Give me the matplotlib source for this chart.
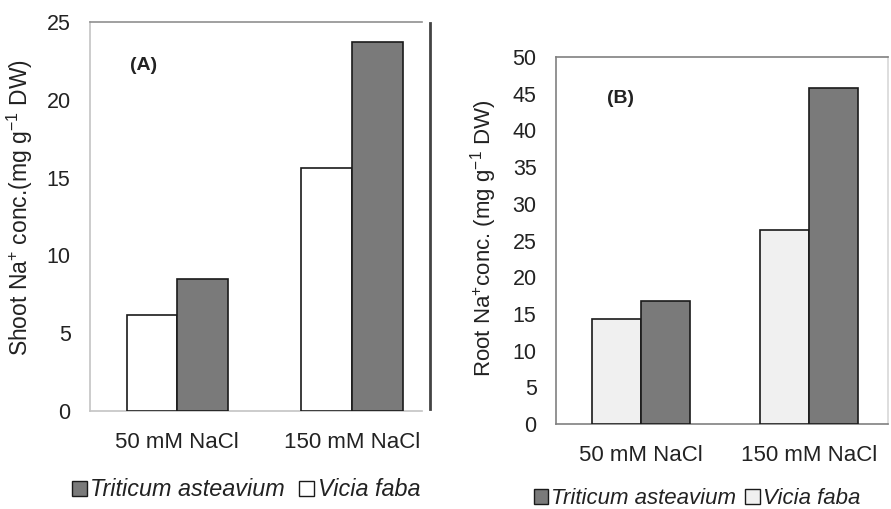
import matplotlib
matplotlib.use("Agg")
import matplotlib.pyplot as plt
from matplotlib.patches import Patch
from matplotlib.lines import Line2D
import numpy as np

plt.rcParams['font.family'] = ['Liberation Sans', 'DejaVu Sans']
plt.rcParams['mathtext.fontset'] = 'custom'
plt.rcParams['mathtext.rm'] = 'Liberation Sans'
plt.rcParams['mathtext.it'] = 'Liberation Sans:italic'

categories = ["50 mM NaCl", "150 mM NaCl"]
species = ["Triticum asteavium", "Vicia faba"]

shoot_triticum = [8.5, 23.7]
shoot_vicia = [6.2, 15.6]
root_triticum = [16.7, 45.8]
root_vicia = [14.3, 26.4]

shoot_ticks = [0, 5, 10, 15, 20, 25]
root_ticks = [0, 5, 10, 15, 20, 25, 30, 35, 40, 45, 50]

W, H = 891, 509
fig = plt.figure(figsize=(W / 100, H / 100), dpi=100)
fig.patch.set_facecolor("white")

dark = "#7a7a7a"
edge = "#1a1a1a"


def px_axes(x0, y0, x1, y1):
    return fig.add_axes([x0 / W, 1 - y1 / H, (x1 - x0) / W, (y1 - y0) / H])


def style_axes(ax, ticks, ylim, xlim, spine_col):
    ax.set_ylim(*ylim)
    ax.set_xlim(*xlim)
    ax.set_yticks(ticks)
    ax.set_xticks(np.arange(len(categories)))
    ax.set_xticklabels(categories, fontsize=16)
    ax.tick_params(axis="both", length=0, colors="#222222")
    ax.tick_params(axis="y", pad=14, labelsize=15.5)
    ax.tick_params(axis="x", pad=15)
    for s in ax.spines.values():
        s.set_color(spine_col)
        s.set_linewidth(1.2)


bw = 0.29
x = np.arange(len(categories))

# Panel A: shoot
axA = px_axes(90, 22, 422, 411)
axA.bar(x - bw / 2, shoot_vicia, bw, color="white", edgecolor=edge, linewidth=1.2, zorder=3)
axA.bar(x + bw / 2, shoot_triticum, bw, color=dark, edgecolor=edge, linewidth=1.2, zorder=3)
style_axes(axA, shoot_ticks, (0, 25), (-0.5, 1.4), "#c4c4c4")
axA.spines["top"].set_color("#909090")
axA.spines["right"].set_visible(False)
axA.text(0.12, 0.889, "(A)", transform=axA.transAxes, fontsize=14, fontweight="bold",
         color="#222222", ha="left", va="center")
fig.add_artist(Line2D([429.5 / W, 429.5 / W], [1 - 23 / H, 1 - 409 / H],
                      color="#444444", linewidth=2.0))
fig.text(20 / W, 1 - 208 / H, r"Shoot Na$^{+}$ conc.(mg g$^{-1}$ DW)", rotation=90,
         ha="center", va="center", fontsize=16.5, color="#222222")

# Panel B: root
axB = px_axes(556, 57, 888, 424)
axB.bar(x - bw / 2, root_vicia, bw, color="#f0f0f0", edgecolor=edge, linewidth=1.2, zorder=3)
axB.bar(x + bw / 2, root_triticum, bw, color=dark, edgecolor=edge, linewidth=1.2, zorder=3)
style_axes(axB, root_ticks, (0, 50), (-0.506, 1.47), "#808080")
axB.spines["right"].set_color("#d8d8d8")
axB.text(0.155, 0.888, "(B)", transform=axB.transAxes, fontsize=14, fontweight="bold",
         color="#222222", ha="left", va="center")
fig.text(484 / W, 1 - 238 / H, r"Root Na$^{+}$conc. (mg g$^{-1}$ DW)", rotation=90,
         ha="center", va="center", fontsize=16, color="#222222")

# Legends
def make_handles(vicia_col):
    return [Patch(facecolor=dark, edgecolor=edge, linewidth=1.0),
            Patch(facecolor=vicia_col, edgecolor=edge, linewidth=1.0)]


legA = fig.legend(make_handles("white"), species, loc="center",
                  bbox_to_anchor=(246 / W, 1 - 490 / H), ncol=2, frameon=False,
                  handlelength=0.65, handleheight=0.65, handletextpad=0.15,
                  columnspacing=0.6, prop={"style": "italic", "size": 16.8})
legB = fig.legend(make_handles("#f0f0f0"), species, loc="center",
                  bbox_to_anchor=(697 / W, 1 - 499 / H), ncol=2, frameon=False,
                  handlelength=0.65, handleheight=0.65, handletextpad=0.15,
                  columnspacing=0.4, prop={"style": "italic", "size": 16})
for leg in (legA, legB):
    for t in leg.get_texts():
        t.set_color("#222222")

fig.savefig("out.png", dpi=100)
